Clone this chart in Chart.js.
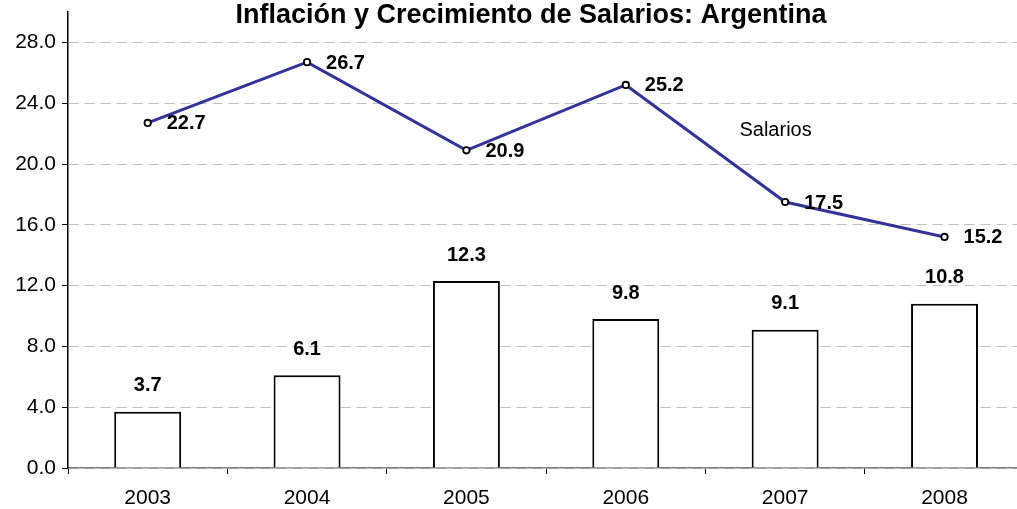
<!DOCTYPE html>
<html>
<head>
<meta charset="utf-8">
<script src="https://cdn.jsdelivr.net/npm/chart.js@4/dist/chart.umd.min.js"></script>
<style>
  html, body { margin: 0; padding: 0; background: #fff; overflow: hidden; }
  #wrap { width: 1030px; height: 509px; }
</style>
</head>
<body>
<div id="wrap"><canvas id="chart"></canvas></div>
<script>
'use strict';

// Data

var years = ['2003', '2004', '2005', '2006', '2007', '2008'];
var inflacion = [3.7, 6.1, 12.3, 9.8, 9.1, 10.8];
var salarios = [22.7, 26.7, 20.9, 25.2, 17.5, 15.2];
var yTicks = [0, 4, 8, 12, 16, 20, 24, 28];

var titleText = 'Inflación y Crecimiento de Salarios: Argentina';
var lineNote = 'Salarios';

// Plugins

var valueLabels = {
	id: 'valueLabels',
	afterDatasetsDraw: function(chart) {
		var ctx = chart.ctx;
		ctx.save();
		ctx.fillStyle = '#000';
		ctx.font = 'bold 20px "Liberation Sans", Arial, sans-serif';

		// bars: centred above
		var bars = chart.getDatasetMeta(0).data;
		ctx.textAlign = 'center';
		ctx.textBaseline = 'middle';
		bars.forEach(function(el, i) {
			ctx.fillText(inflacion[i].toFixed(1), el.x, el.y - 26);
		});

		// line: to the right of the point
		var pts = chart.getDatasetMeta(1).data;
		ctx.textAlign = 'left';
		pts.forEach(function(el, i) {
			ctx.fillText(salarios[i].toFixed(1), el.x + 19, el.y + 1);
		});

		// series note
		var xs = chart.scales.x, ys = chart.scales.y;
		ctx.font = '20px "Liberation Sans", Arial, sans-serif';
		ctx.textAlign = 'center';
		ctx.fillText(lineNote, xs.getPixelForValue(3.94), ys.getPixelForValue(22.2));

		// title
		ctx.font = 'bold 27px "Liberation Sans", Arial, sans-serif';
		ctx.fillText(titleText, 531, 16);
		ctx.restore();
	}
};

var chart = new Chart(document.getElementById('chart'), {
	type: 'bar',
	data: {
		labels: years,
		datasets: [{
			type: 'bar',
			label: 'Inflación',
			data: inflacion,
			backgroundColor: '#ffffff',
			borderColor: '#000000',
			borderWidth: 2,
			barPercentage: 0.84,
			categoryPercentage: 0.5,
			order: 2
		}, {
			type: 'line',
			label: 'Salarios',
			data: salarios,
			borderColor: '#333399',
			borderWidth: 3,
			pointRadius: 3.2,
			pointBackgroundColor: '#ffffff',
			pointBorderColor: '#000000',
			pointBorderWidth: 1.8,
			tension: 0,
			order: 1
		}]
	},
	options: {
		responsive: true,
		maintainAspectRatio: false,
		animation: false,
		layout: { padding: { left: 0, right: 3, top: 12, bottom: 0 } },
		plugins: {
			legend: { display: false },
			title: { display: false },
			tooltip: { enabled: false }
		},
		scales: {
			x: {
				offset: true,
				grid: {
					offset: true,
					drawOnChartArea: false,
					drawTicks: true,
					tickLength: 6,
					color: '#000000'
				},
				border: { color: '#808080', width: 1.5 },
				ticks: {
					color: '#000',
					padding: 12,
					font: { family: '"Liberation Sans", Arial, sans-serif', size: 21 }
				},
				afterFit: function(scale) { scale.height = 41; }
			},
			y: {
				min: 0,
				max: 30,
				afterBuildTicks: function(scale) {
					scale.ticks = yTicks.map(function(v) { return { value: v }; });
				},
				grid: {
					color: '#c0c0c0',
					tickColor: '#000000',
					tickLength: 6,
					tickBorderDash: [],
					drawTicks: true
				},
				border: { color: '#000000', width: 1.5, dash: [10, 6] },
				ticks: {
					color: '#000',
					padding: 6,
					font: { family: '"Liberation Sans", Arial, sans-serif', size: 21 },
					callback: function(v) { return Number(v).toFixed(1); }
				},
				afterFit: function(scale) {
					scale.width = 68;
					scale.paddingTop = 0;
					scale.paddingBottom = 0;
				}
			}
		}
	},
	plugins: [valueLabels]
});
</script>
</body>
</html>
